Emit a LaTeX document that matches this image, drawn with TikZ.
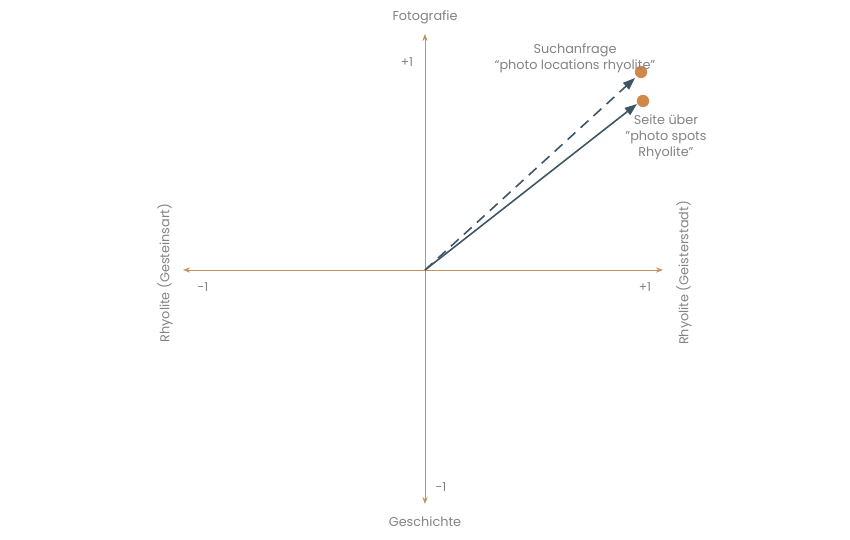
\documentclass[tikz,border=0pt]{standalone}
\usepackage{fontspec}
\setmainfont{Poppins}
\usetikzlibrary{arrows.meta,positioning}
\definecolor{axisbrown}{HTML}{C4925E}
\definecolor{vecslate}{HTML}{3E5566}
\definecolor{dotorange}{HTML}{D0874A}
\definecolor{labelgrey}{HTML}{838383}
\tikzset{
  axis/.style={{Stealth[length=4pt,width=3pt]}-{Stealth[length=4pt,width=3pt]},draw=axisbrown,line width=0.5pt},
  vector/.style={-{Triangle[length=7pt,width=5pt]},draw=vecslate,line width=0.9pt},
  dot/.style={circle,fill=dotorange,inner sep=0pt,minimum size=7pt},
  lbl/.style={text=labelgrey,font=\fontsize{7.3}{9}\selectfont,align=center,inner sep=1pt},
  tick/.style={text=labelgrey,font=\fontsize{7}{8}\selectfont,inner sep=1pt}
}
\newcommand{\sq}{\symbol{34}}

\begin{document}
\begin{tikzpicture}[x=0.02cm,y=-0.02cm]
  \useasboundingbox (0,0) rectangle (850,540);
  \coordinate (o) at (425,270);
  \coordinate (west) at (183,270);
  \coordinate (east) at (663,270);
  \coordinate (north) at (425,34);
  \coordinate (south) at (425,504);

  % axes
  \draw[axis] (west) -- (east);
  \draw[axis] (south) -- (north);

  \node[lbl] (foto) at (425,17) {Fotografie};
  \node[lbl] (gesch) at (425,522) {Geschichte};
  \node[lbl,rotate=90] (gestein) at (165,273) {Rhyolite (Gesteinsart)};
  \node[lbl,rotate=90] (geister) at (684,273) {Rhyolite (Geisterstadt)};

  \node[tick] (ptop) at (407,62) {+1};
  \node[tick] (mleft) at (203,287) {-1};
  \node[tick] (pright) at (645,287) {+1};
  \node[tick] (mbottom) at (441,487) {-1};

  % documents
  \node[dot] (query) at (641,72) {};
  \node[dot] (page) at (643,101) {};
  \node[lbl] (querytxt) at (575,58) {Suchanfrage\\“photo locations rhyolite”};
  \node[lbl] (pagetxt) at (666,137) {Seite über\\\sq photo spots\\Rhyolite\sq};

  \draw[vector,dashed,dash pattern=on 6pt off 4pt] (o) -- (635,78);
  \draw[vector] (o) -- (637,104);
\end{tikzpicture}
\end{document}
